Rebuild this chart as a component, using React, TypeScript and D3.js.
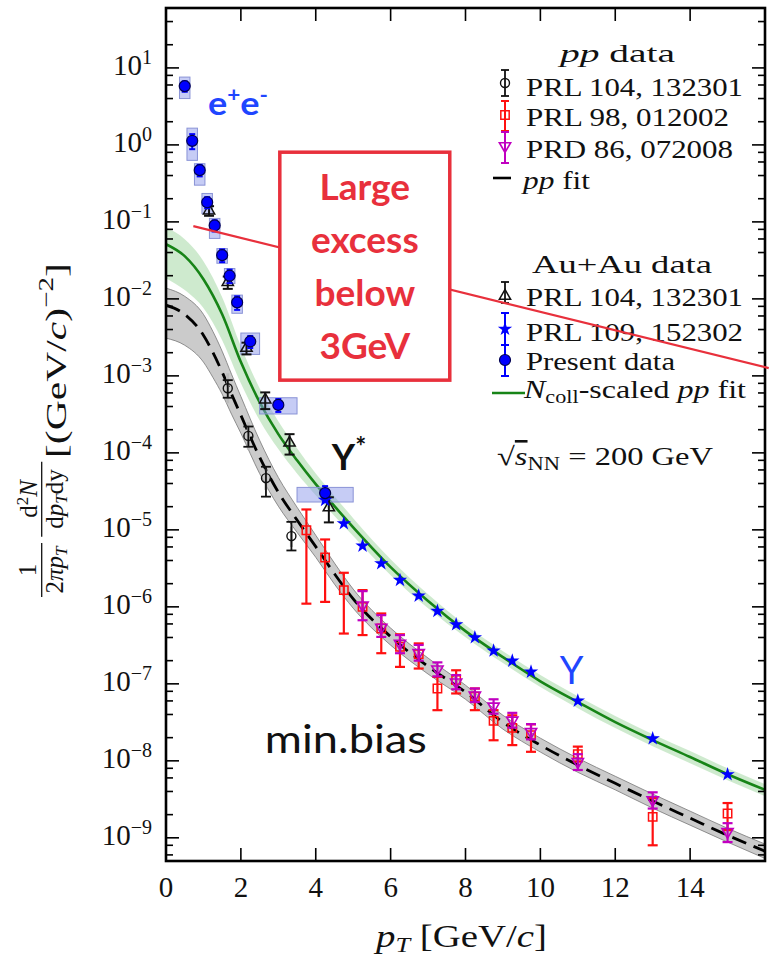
import * as d3 from "d3";

const W = 769;
const H = 958;

// ---- Au+Au dielectrons, present data (blue circles + syst. boxes)
const presentPt = [0.5, 0.7, 0.9, 1.1, 1.3, 1.5, 1.7, 1.9, 2.25, 3.0, 4.25];
const presentVal = [5.8, 1.13, 0.47, 0.18, 0.09, 0.037, 0.02, 0.009, 0.0028, 4.2e-4, 3.0e-5];
const presentErr = [0.9, 0.25, 0.08, 0.03, 0.015, 0.007, 0.004, 0.0018, 0.0005, 0.8e-4, 0.7e-5];
const presentBinLo = [0.36, 0.56, 0.76, 0.96, 1.16, 1.36, 1.56, 1.76, 2.0, 2.5, 3.5];
const presentBinHi = [0.64, 0.84, 1.04, 1.24, 1.44, 1.64, 1.84, 2.04, 2.5, 3.5, 5.0];
const presentSysLo = [4.0, 0.63, 0.3, 0.128, 0.061, 0.029, 0.0158, 0.0065, 0.0019, 3.2e-4, 2.3e-5];
const presentSysHi = [7.6, 1.65, 0.57, 0.234, 0.111, 0.045, 0.0248, 0.0112, 0.0036, 5.2e-4, 3.56e-5];

// ---- Au+Au PRL 104, 132301 (black open triangles)
const auPhPt = [1.15, 1.65, 2.15, 2.65, 3.3, 4.35];
const auPhVal = [0.14, 0.0165, 0.0023, 4.9e-4, 1.35e-4, 1.95e-5];
const auPhErr = [0.02, 0.003, 0.0004, 1.2e-4, 4e-5, 0.7e-5];

// ---- Au+Au PRL 109, 152302 (blue stars)
const starPt = [4.25, 4.75, 5.25, 5.75, 6.25, 6.75, 7.25, 7.75, 8.25, 8.75, 9.25, 9.75, 11, 13, 15];
const starVal = [2.43e-5, 1.21e-5, 6.2e-6, 3.66e-6, 2.22e-6, 1.39e-6, 8.8e-7, 5.9e-7, 4.0e-7, 2.69e-7, 1.99e-7, 1.43e-7, 6.0e-8, 1.95e-8, 6.65e-9];

// ---- pp PRL 104, 132301 (black open circles)
const ppPhPt = [1.65, 2.2, 2.67, 3.35];
const ppPhVal = [6.9e-4, 1.66e-4, 4.7e-5, 8.3e-6];
const ppPhLo = [5.2e-4, 1.2e-4, 2.7e-5, 5.4e-6];
const ppPhHi = [8.8e-4, 2.2e-4, 6.6e-5, 1.27e-5];
const ppPhSysLo = [4.4e-4, 1.1e-4, 3.3e-5, 6.0e-6];
const ppPhSysHi = [1.08e-3, 2.5e-4, 6.2e-5, 1.1e-5];

// ---- pp PRL 98, 012002 (red open squares)
const ppStPt = [3.75, 4.25, 4.75, 5.25, 5.75, 6.25, 6.75, 7.25, 7.75, 8.25, 8.75, 9.25, 9.75, 11, 13, 15];
const ppStVal = [9.9e-6, 4.38e-6, 1.65e-6, 1.0e-6, 5.24e-7, 3.03e-7, 2.43e-7, 8.7e-8, 1.12e-7, 6.8e-8, 3.3e-8, 2.68e-8, 2.16e-8, 1.22e-8, 1.87e-9, 2.07e-9];
const ppStLo = [1.1e-6, 1.16e-6, 4.5e-7, 4.3e-7, 2.5e-7, 1.66e-7, 1.58e-7, 4.55e-8, 7.5e-8, 4.55e-8, 1.85e-8, 1.6e-8, 1.31e-8, 9.8e-9, 8.0e-10, 1.26e-9];
const ppStHi = [1.84e-5, 7.5e-6, 2.77e-6, 1.65e-6, 8.2e-7, 4.4e-7, 3.35e-7, 1.23e-7, 1.5e-7, 8.7e-8, 4.55e-8, 3.9e-8, 2.98e-8, 1.53e-8, 3.28e-9, 2.83e-9];

// ---- pp PRD 86, 072008 (magenta open down-triangles)
const ppJpPt = [5.25, 5.75, 6.25, 6.75, 7.25, 7.75, 8.25, 8.75, 9.25, 9.75, 11, 13, 15];
const ppJpVal = [1.05e-6, 5.4e-7, 3.34e-7, 2.53e-7, 1.55e-7, 1.05e-7, 7.1e-8, 5.1e-8, 3.35e-8, 2.38e-8, 9.7e-9, 3.1e-9, 1.2e-9];
const ppJpLo = [6.7e-7, 4.07e-7, 2.5e-7, 2.0e-7, 1.25e-7, 8.5e-8, 5.8e-8, 4.1e-8, 2.7e-8, 1.9e-8, 7.6e-9, 2.4e-9, 8.8e-10];
const ppJpHi = [1.6e-6, 7.8e-7, 4.3e-7, 3.2e-7, 1.9e-7, 1.3e-7, 8.7e-8, 6.3e-8, 4.2e-8, 3.0e-8, 1.22e-8, 3.9e-9, 1.55e-9];

// ---- pp fit (black dashed) with grey band
const ppFitPt = [0, 0.5, 1.0, 1.25, 1.5, 1.75, 2.0, 2.5, 3.0, 3.5, 4.0, 4.5, 5, 6, 7, 8, 9, 10, 11, 12, 13, 14, 15, 16];
const ppFitVal = [8.28e-3, 6.3e-3, 3.37e-3, 2.03e-3, 1.12e-3, 5.8e-4, 3.08e-4, 8.8e-5, 3.09e-5, 1.34e-5, 6.05e-6, 2.69e-6, 1.27e-6, 4.1e-7, 1.68e-7, 7.8e-8, 3.18e-8, 1.6e-8, 8.8e-9, 5.1e-9, 3.0e-9, 1.8e-9, 1.08e-9, 6.7e-10];
const ppFitHi = [1.38e-2, 1.08e-2, 6.3e-3, 3.8e-3, 2.09e-3, 1.05e-3, 5.4e-4, 1.46e-4, 4.8e-5, 1.97e-5, 8.5e-6, 3.7e-6, 1.7e-6, 5.3e-7, 2.16e-7, 9.6e-8, 3.9e-8, 1.97e-8, 1.08e-8, 6.3e-9, 3.7e-9, 2.22e-9, 1.33e-9, 8.3e-10];
const ppFitLo = [3.09e-3, 2.5e-3, 1.51e-3, 9.6e-4, 5.8e-4, 3.18e-4, 1.8e-4, 5.4e-5, 2.03e-5, 9.3e-6, 4.4e-6, 1.97e-6, 9.6e-7, 3.18e-7, 1.34e-7, 6.3e-8, 2.58e-8, 1.3e-8, 7.1e-9, 4.2e-9, 2.43e-9, 1.46e-9, 8.8e-10, 5.4e-10];

// ---- Ncoll-scaled pp fit (green) with band
const aaFitPt = [0, 0.5, 1.0, 1.5, 2.0, 2.5, 3.0, 3.5, 4.0, 4.5, 5, 6, 7, 8, 9, 10, 11, 12, 13, 14, 15, 16];
const aaFitVal = [5.13e-2, 3.59e-2, 1.8e-2, 6.3e-3, 1.51e-3, 4.56e-4, 1.75e-4, 8.0e-5, 3.92e-5, 2.03e-5, 1.08e-5, 3.28e-6, 1.19e-6, 4.84e-7, 2.22e-7, 1.08e-7, 5.8e-8, 3.18e-8, 1.86e-8, 1.12e-8, 6.7e-9, 4.2e-9];
const aaFitHi = [8.5e-2, 5.96e-2, 3.09e-2, 1.05e-2, 2.43e-3, 6.9e-4, 2.58e-4, 1.15e-4, 5.4e-5, 2.74e-5, 1.42e-5, 4.16e-6, 1.46e-6, 5.8e-7, 2.66e-7, 1.3e-7, 6.9e-8, 3.81e-8, 2.22e-8, 1.34e-8, 8.0e-9, 4.98e-9];
const aaFitLo = [1.86e-2, 1.3e-2, 7.6e-3, 2.91e-3, 8.0e-4, 2.66e-4, 1.12e-4, 5.4e-5, 2.82e-5, 1.51e-5, 8.3e-6, 2.58e-6, 9.6e-7, 4.04e-7, 1.86e-7, 9.1e-8, 4.83e-8, 2.66e-8, 1.55e-8, 9.3e-9, 5.6e-9, 3.48e-9];

// ---- axis ticks
const xTicks = [0, 2, 4, 6, 8, 10, 12, 14];
const yExponents = [1, 0, -1, -2, -3, -4, -5, -6, -7, -8, -9];

// ---- annotations (data coordinates)
const excessLine = [[0.73, 0.088], [16.1, 1.26e-3]];
const excessBox = { pt0: 3.04, pt1: 7.58, top: 0.804, bottom: 8.8e-4 };
const excessText = ["Large", "excess", "below", "3GeV"];

const BLUE = "#0000ff";
const RED = "#ff1010";
const MAG = "#c000c0";
const GREEN = "#178417";
const ANNO_RED = "#e8303c";
const ANNO_BLUE = "#1f46ff";
const SERIF = "'Liberation Serif', 'Times New Roman', Times, serif";
const SANS = "Lato, 'Open Sans', sans-serif";

const x = d3.scaleLinear().domain([0, 16]).range([166, 765]);
const y = d3.scaleLog().domain([5e-10, 60]).range([861, 8]);

const starPath = d3.symbol(d3.symbolStar, 64)();
const triPath = d3.symbol(d3.symbolTriangle, 55)();
const sqPath = d3.symbol(d3.symbolSquare, 70)();

function ErrBar({ cx, y0, y1, color, w = 2, cap = 5 }) {
  return (
    <g stroke={color} strokeWidth={w}>
      <line x1={cx} x2={cx} y1={y0} y2={y1} />
      <line x1={cx - cap} x2={cx + cap} y1={y0} y2={y0} />
      <line x1={cx - cap} x2={cx + cap} y1={y1} y2={y1} />
    </g>
  );
}

const Marker = {
  circle: (cx, cy) => <circle cx={cx} cy={cy} r={4.5} fill="none" stroke="#111" strokeWidth={1.4} />,
  tri: (cx, cy) => <path d={triPath} transform={`translate(${cx},${cy})`} fill="none" stroke="#111" strokeWidth={1.5} />,
  square: (cx, cy) => <path d={sqPath} transform={`translate(${cx},${cy})`} fill="none" stroke={RED} strokeWidth={1.5} />,
  down: (cx, cy) => <path d={triPath} transform={`translate(${cx},${cy}) rotate(180)`} fill="none" stroke={MAG} strokeWidth={1.6} />,
  star: (cx, cy) => <path d={starPath} transform={`translate(${cx},${cy})`} fill={BLUE} />,
  dot: (cx, cy) => <circle cx={cx} cy={cy} r={5.5} fill={BLUE} stroke="#000050" strokeWidth={1.2} />,
};

export default function App() {
  const line = d3
    .line<[number, number]>()
    .x((d) => x(d[0]))
    .y((d) => y(d[1]))
    .curve(d3.curveMonotoneX);
  const area = d3
    .area<[number, number, number]>()
    .x((d) => x(d[0]))
    .y0((d) => y(d[1]))
    .y1((d) => y(d[2]))
    .curve(d3.curveMonotoneX);

  const ppLine = line(ppFitPt.map((p, i) => [p, ppFitVal[i]]));
  const ppBand = area(ppFitPt.map((p, i) => [p, ppFitLo[i], ppFitHi[i]]));
  const aaLine = line(aaFitPt.map((p, i) => [p, aaFitVal[i]]));
  const aaBand = area(aaFitPt.map((p, i) => [p, aaFitLo[i], aaFitHi[i]]));

  const [x0, x1] = x.range();
  const [yb, yt] = y.range();

  const yMinor = [];
  for (let e = -10; e <= 1; e++) {
    for (const m of [2, 4, 6, 8]) {
      const v = m * 10 ** e;
      if (v > 5e-10 && v < 60) yMinor.push(v);
    }
  }

  const bx0 = x(excessBox.pt0);
  const bx1 = x(excessBox.pt1);
  const by0 = y(excessBox.top);
  const by1 = y(excessBox.bottom);

  // legend layout
  const lx = 505;
  const legendText = { fontFamily: SERIF, fontSize: 26, fill: "#111" };

  return (
    <svg width={W} height={H} style={{ position: "absolute", left: 0, top: 0, background: "#fff" }}>
      <defs>
        <clipPath id="plot">
          <rect x={x0} y={yt} width={x1 - x0} height={yb - yt} />
        </clipPath>
      </defs>

      {/* fit bands and curves */}
      <g clipPath="url(#plot)">
        <path d={aaBand} fill="#5cb85c" fillOpacity={0.3} />
        <path d={ppBand} fill="#8c8c8c" fillOpacity={0.45} stroke="#777" strokeWidth={0.8} />
        <path d={aaLine} fill="none" stroke={GREEN} strokeWidth={2.6} />
        <path d={ppLine} fill="none" stroke="#000" strokeWidth={2.8} strokeDasharray="15 8" />
      </g>

      {/* systematic boxes of present data */}
      {presentPt.map((p, i) => (
        <rect
          key={"sb" + i}
          x={x(presentBinLo[i])}
          width={x(presentBinHi[i]) - x(presentBinLo[i])}
          y={y(presentSysHi[i])}
          height={y(presentSysLo[i]) - y(presentSysHi[i])}
          fill="#8e9aec"
          fillOpacity={0.5}
          stroke="#8a93d6"
          strokeWidth={1}
        />
      ))}

      {/* pp PHENIX circles */}
      {ppPhPt.map((p, i) => (
        <g key={"pc" + i}>
          <line x1={x(p)} x2={x(p)} y1={y(ppPhSysHi[i])} y2={y(ppPhSysLo[i])} stroke="#bbb" strokeWidth={3} />
          <ErrBar cx={x(p)} y0={y(ppPhHi[i])} y1={y(ppPhLo[i])} color="#111" w={1.8} />
          {Marker.circle(x(p), y(ppPhVal[i]))}
        </g>
      ))}

      {/* pp STAR squares */}
      {ppStPt.map((p, i) => (
        <g key={"sq" + i}>
          <ErrBar cx={x(p)} y0={y(ppStHi[i])} y1={y(ppStLo[i])} color={RED} w={2.2} />
          {Marker.square(x(p), y(ppStVal[i]))}
        </g>
      ))}

      {/* pp PRD down triangles */}
      {ppJpPt.map((p, i) => (
        <g key={"dt" + i}>
          <ErrBar cx={x(p)} y0={y(ppJpHi[i])} y1={y(ppJpLo[i])} color={MAG} w={2.2} />
          {Marker.down(x(p), y(ppJpVal[i]))}
        </g>
      ))}

      {/* Au+Au PHENIX triangles */}
      {auPhPt.map((p, i) => (
        <g key={"at" + i}>
          <ErrBar cx={x(p)} y0={y(auPhVal[i] + auPhErr[i])} y1={y(auPhVal[i] - auPhErr[i])} color="#111" w={2} />
          {Marker.tri(x(p), y(auPhVal[i]))}
        </g>
      ))}

      {/* Au+Au STAR stars */}
      {starPt.map((p, i) => (
        <g key={"st" + i}>{Marker.star(x(p), y(starVal[i]))}</g>
      ))}

      {/* present data */}
      {presentPt.map((p, i) => (
        <g key={"pd" + i}>
          <ErrBar cx={x(p)} y0={y(presentVal[i] + presentErr[i])} y1={y(presentVal[i] - presentErr[i])} color={BLUE} w={2} cap={3} />
          {Marker.dot(x(p), y(presentVal[i]))}
        </g>
      ))}

      {/* frame and ticks */}
      <g stroke="#000" strokeWidth={1.6}>
        {xTicks.slice(1).map((t) => (
          <g key={"xt" + t}>
            <line x1={x(t)} x2={x(t)} y1={yb} y2={yb - 13} />
            <line x1={x(t)} x2={x(t)} y1={yt} y2={yt + 13} />
          </g>
        ))}
        {yExponents.map((e) => (
          <g key={"ym" + e}>
            <line x1={x0} x2={x0 + 13} y1={y(10 ** e)} y2={y(10 ** e)} />
            <line x1={x1} x2={x1 - 13} y1={y(10 ** e)} y2={y(10 ** e)} />
          </g>
        ))}
        {yMinor.map((v, i) => (
          <g key={"yn" + i}>
            <line x1={x0} x2={x0 + 7} y1={y(v)} y2={y(v)} />
            <line x1={x1} x2={x1 - 7} y1={y(v)} y2={y(v)} />
          </g>
        ))}
      </g>
      <rect x={x0} y={yt} width={x1 - x0} height={yb - yt} fill="none" stroke="#000" strokeWidth={2.6} />

      {/* tick labels */}
      <g fontFamily={SERIF} fontSize={29} fill="#111">
        {xTicks.map((t) => (
          <text key={"xl" + t} x={x(t)} y={897} textAnchor="middle">
            {t}
          </text>
        ))}
        {yExponents.map((e) => (
          <text key={"yl" + e} x={152} y={y(10 ** e) + 7} textAnchor="end">
            10
            <tspan dy={-11} fontSize={20}>
              {e < 0 ? "\u2212" + -e : e}
            </tspan>
          </text>
        ))}
      </g>

      {/* axis titles */}
      <text x={376} y={947} fontFamily={SERIF} fontSize={31} fill="#111" textLength={171} lengthAdjust="spacingAndGlyphs">
        <tspan fontStyle="italic">p</tspan>
        <tspan fontStyle="italic" fontSize={21} dy={5}>T</tspan>
        <tspan dy={-5}> [GeV/</tspan>
        <tspan fontStyle="italic">c</tspan>]
      </text>
      <g transform="translate(0,430) rotate(-90)" fontFamily={SERIF} fill="#111">
        <text x={-140} y={36} fontSize={25} textAnchor="middle">1</text>
        <line x1={-167} x2={-113} y1={41.7} y2={41.7} stroke="#111" strokeWidth={1.3} />
        <text x={-140} y={63} fontSize={25} textAnchor="middle">
          2<tspan fontStyle="italic">πp</tspan>
          <tspan fontStyle="italic" fontSize={17} dy={4}>T</tspan>
        </text>
        <text x={-69} y={37} fontSize={25} textAnchor="middle">
          d<tspan fontSize={17} dy={-9}>2</tspan>
          <tspan fontStyle="italic" dy={9}>N</tspan>
        </text>
        <line x1={-106.7} x2={-31.7} y1={41.7} y2={41.7} stroke="#111" strokeWidth={1.3} />
        <text x={-69} y={63} fontSize={25} textAnchor="middle">
          d<tspan fontStyle="italic">p</tspan>
          <tspan fontStyle="italic" fontSize={17} dy={4}>T</tspan>
          <tspan dy={-4}>dy</tspan>
        </text>
        <text x={-28} y={66} fontSize={30} textLength={195} lengthAdjust="spacingAndGlyphs">
          [(GeV/<tspan fontStyle="italic">c</tspan>)
          <tspan fontSize={21} dy={-13}>{"\u22122"}</tspan>
          <tspan dy={13}>]</tspan>
        </text>
      </g>

      {/* legend: pp */}
      <text x={560} y={62} {...legendText} textLength={115} lengthAdjust="spacingAndGlyphs">
        <tspan fontStyle="italic">pp</tspan> data
      </text>
      <ErrBar cx={lx} y0={70} y1={96} color="#111" w={1.8} cap={4} />
      {Marker.circle(lx, 83)}
      <text x={526} y={96} {...legendText} textLength={217} lengthAdjust="spacingAndGlyphs">PRL 104, 132301</text>
      <ErrBar cx={lx} y0={101} y1={131} color={RED} w={2} cap={4} />
      {Marker.square(lx, 115)}
      <text x={526} y={126} {...legendText} textLength={203} lengthAdjust="spacingAndGlyphs">PRL 98, 012002</text>
      <ErrBar cx={lx} y0={132} y1={163} color={MAG} w={2} cap={4} />
      {Marker.down(lx, 146)}
      <text x={526} y={158} {...legendText} textLength={207} lengthAdjust="spacingAndGlyphs">PRD 86, 072008</text>
      <line x1={493} x2={511} y1={178} y2={178} stroke="#000" strokeWidth={2.6} />
      <text x={523} y={189} {...legendText} textLength={67} lengthAdjust="spacingAndGlyphs">
        <tspan fontStyle="italic">pp</tspan> fit
      </text>

      {/* legend: Au+Au */}
      <text x={532} y={273} {...legendText} textLength={180} lengthAdjust="spacingAndGlyphs">Au+Au data</text>
      <ErrBar cx={lx} y0={282} y1={303} color="#111" w={1.8} cap={4} />
      {Marker.tri(lx, 296)}
      <text x={526} y={306} {...legendText} textLength={217} lengthAdjust="spacingAndGlyphs">PRL 104, 132301</text>
      <ErrBar cx={lx} y0={313} y1={345} color={BLUE} w={2} cap={4} />
      {Marker.star(lx, 329)}
      <text x={526} y={341} {...legendText} textLength={217} lengthAdjust="spacingAndGlyphs">PRL 109, 152302</text>
      <ErrBar cx={lx} y0={345} y1={376} color={BLUE} w={2} cap={4} />
      {Marker.dot(lx, 360)}
      <text x={526} y={370} {...legendText} textLength={149} lengthAdjust="spacingAndGlyphs">Present data</text>
      <line x1={492} x2={525} y1={393} y2={393} stroke={GREEN} strokeWidth={2.6} />
      <text x={524} y={398} {...legendText} textLength={222} lengthAdjust="spacingAndGlyphs">
        <tspan fontStyle="italic">N</tspan>
        <tspan fontSize={18} dy={5}>coll</tspan>
        <tspan dy={-5}>-scaled </tspan>
        <tspan fontStyle="italic">pp</tspan> fit
      </text>
      <text x={497} y={465} {...legendText} textLength={216} lengthAdjust="spacingAndGlyphs">
        √<tspan fontStyle="italic" textDecoration="overline">s</tspan>
        <tspan fontSize={18} dy={5}>NN</tspan>
        <tspan dy={-5}> = 200 GeV</tspan>
      </text>

      {/* annotations */}
      <line
        x1={x(excessLine[0][0])}
        y1={y(excessLine[0][1])}
        x2={x(excessLine[1][0])}
        y2={y(excessLine[1][1])}
        stroke={ANNO_RED}
        strokeWidth={2.2}
      />
      <rect x={bx0} y={by0} width={bx1 - bx0} height={by1 - by0} fill="#fff" stroke={ANNO_RED} strokeWidth={3.5} />
      <g fontFamily={SANS} fontWeight="bold" fontSize={37} fill={ANNO_RED} textAnchor="middle">
        {excessText.map((s, i) => (
          <text key={s} x={(bx0 + bx1) / 2} y={by0 + 48 + i * 53}>
            {s}
          </text>
        ))}
      </g>
      <text x={x(1.12)} y={y(2.43)} fontFamily={SANS} fontWeight="bold" fontSize={32} fill={ANNO_BLUE} textLength={60} lengthAdjust="spacingAndGlyphs">
        e<tspan fontSize={20} dy={-13}>+</tspan>
        <tspan dy={13}>e</tspan>
        <tspan fontSize={20} dy={-13}>-</tspan>
      </text>
      <text x={x(4.43)} y={y(5.96e-5)} fontFamily={SANS} fontWeight="bold" fontSize={36} fill="#111">
        Y<tspan fontSize={26} dy={-14}>*</tspan>
      </text>
      <text x={x(10.52)} y={y(1.0e-7)} fontFamily={SANS} fontSize={38} fill={ANNO_BLUE}>
        Y
      </text>
      <text x={x(2.64)} y={y(1.26e-8)} fontFamily={SANS} fontSize={38} fill="#111" textLength={162} lengthAdjust="spacingAndGlyphs">
        min.bias
      </text>
    </svg>
  );
}
